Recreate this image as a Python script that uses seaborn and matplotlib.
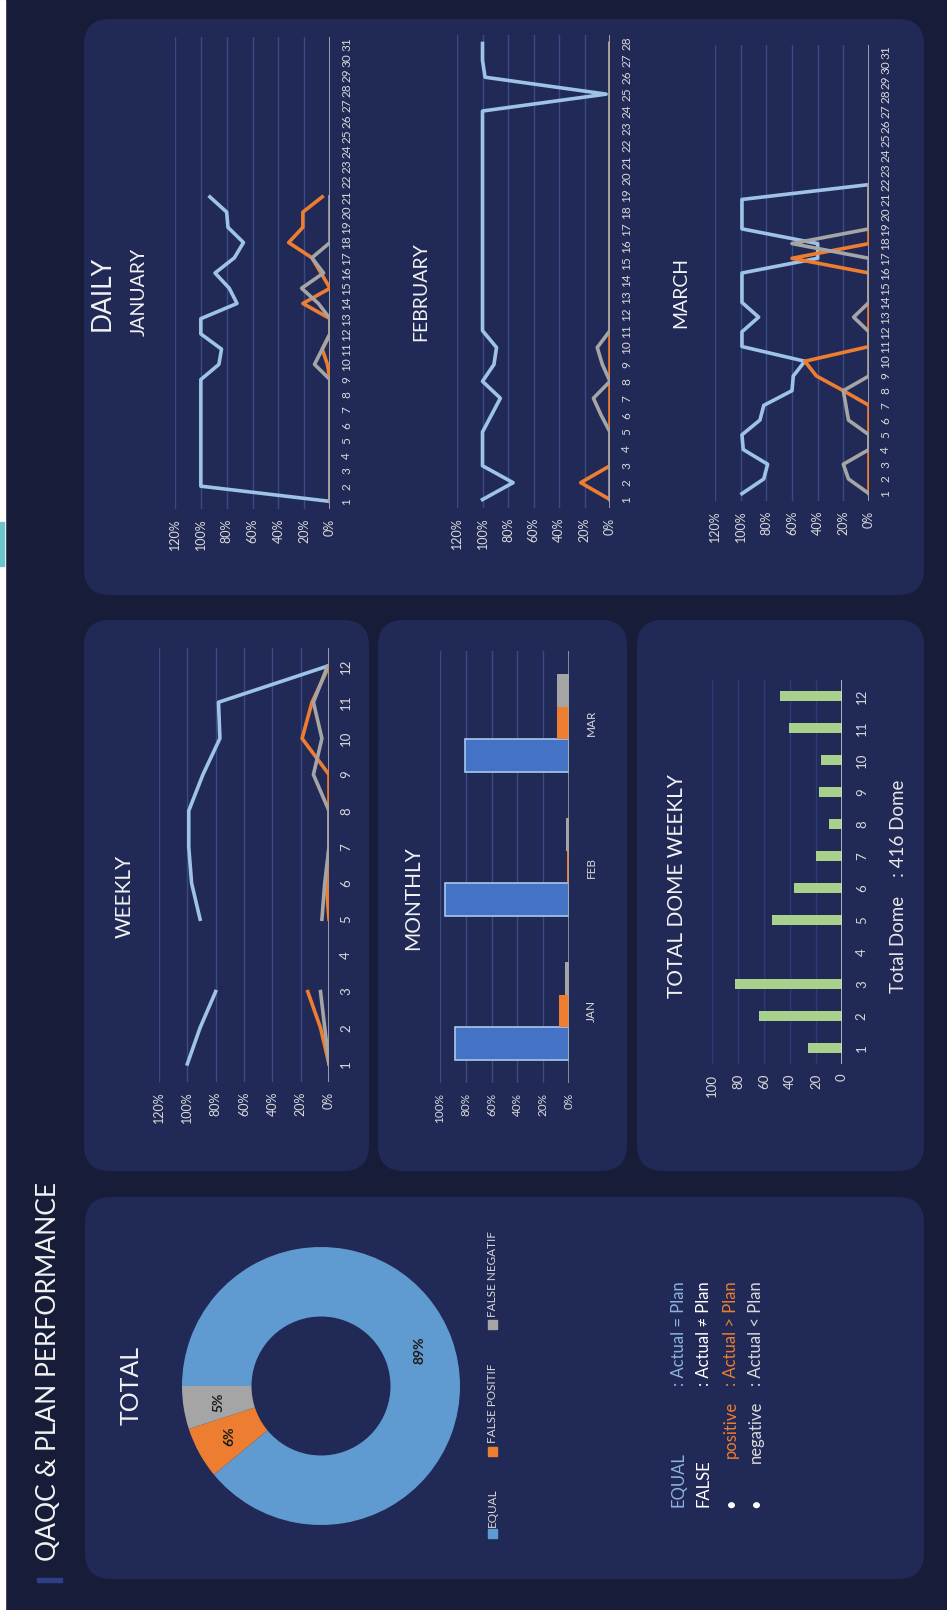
import numpy as np
import pandas as pd
import matplotlib
matplotlib.use('Agg')
import matplotlib.pyplot as plt
import seaborn as sns
from matplotlib.patches import FancyBboxPatch, Rectangle

NA = np.nan

# ---------------------------------------------------------------- data
series_names = ['EQUAL', 'FALSE POSITIF', 'FALSE NEGATIF']
total_share = [89, 6, 5]

weeks = list(range(1, 13))
wk_equal = [100, 91, 80, NA, 91, 97, 99, 99, 89, 77, 78, 1]
wk_fpos = [0, 6, 15, NA, 0, 2, 0, 0, 0, 19, 12, 0]
wk_fneg = [0, 3, 6, NA, 5, 3, 0, 0, 11, 5, 11, 1]

months = ['JAN', 'FEB', 'MAR']
m_equal = [88, 96, 81]
m_fpos = [7.7, 1.3, 9]
m_fneg = [3.4, 2, 9]

dome_weekly = [26, 64, 82, 0, 54, 37, 20, 10, 18, 16, 41, 48]

jan_days = list(range(1, 32))
jan_equal = [0, 100, 100, 100, 100, 100, 100, 100, 100, 86, 84, 100, 100, 72, 78, 89,
             74, 67, 79, 80, 93, NA, NA, NA, NA, NA, NA, NA, NA, NA, NA]
jan_fpos = [0, 0, 0, 0, 0, 0, 0, 0, 0, 2, 6, 0, 0, 21, 0, 7,
            14, 32, 21, 21, 6, NA, NA, NA, NA, NA, NA, NA, NA, NA, NA]
jan_fneg = [0, 0, 0, 0, 0, 0, 0, 0, 0, 12, 6, 0, 0, 9, 22, 5,
            14, 0, 0, 0, 0, NA, NA, NA, NA, NA, NA, NA, NA, NA, NA]

feb_days = list(range(1, 29))
feb_equal = [100, 76, 100, 100, 100, 93, 86, 100, 91, 89, 100, 100, 100, 100,
             100, 100, 100, 100, 100, 100, 100, 100, 100, 100, 3, 98, 100, 100]
feb_fpos = [0, 23, 0, 0, 0, 0, 0, 0, 0, 0, 0, 0, 0, 0,
            0, 0, 0, 0, 0, 0, 0, 0, 0, 0, 0, 0, 0, 0]
feb_fneg = [0, 0, 0, 0, 0, 7, 13, 0, 6, 10, 0, 0, 0, 0,
            0, 0, 0, 0, 0, 0, 0, 0, 0, 0, 0, 0, 0, 0]

mar_days = list(range(1, 32))
mar_equal = [99, 82, 79, 98, 99, 85, 82, 60, 59, 50, 99, 99, 86, 99, 99, 99,
             40, 40, 99, 99, 99, 1, NA, NA, NA, NA, NA, NA, NA, NA, NA]
mar_fpos = [0, 0, 0, 0, 0, 0, 0, 20, 41, 50, 0, 0, 0, 0, 0, 0,
            60, 0, 0, 0, 0, 0, NA, NA, NA, NA, NA, NA, NA, NA, NA]
mar_fneg = [0, 16, 20, 0, 0, 16, 18, 20, 0, 0, 0, 0, 12, 0, 0, 0,
            0, 60, 0, 0, 0, 0, NA, NA, NA, NA, NA, NA, NA, NA, NA]

# ---------------------------------------------------------------- style
BG = '#171d39'
PANEL = '#212a57'
TXT = '#f2f2f2'
TICK = '#d9d9d9'
GRID = '#3b4985'
LINE_COLORS = ['#9dc3e6', '#ed7d31', '#a5a5a5']
BAR_COLORS = ['#4472c4', '#ed7d31', '#a5a5a5']
PIE_COLORS = ['#5f9bd1', '#ed7d31', '#a5a5a5']

plt.rcParams['font.family'] = ['Lato', 'DejaVu Sans']

W, H = 947, 1610
fig = plt.figure(figsize=(W / 100, H / 100), dpi=100)
fig.patch.set_facecolor(BG)

# background layer in pixel coordinates (y downwards)
bg = fig.add_axes([0, 0, 1, 1])
bg.set_xlim(0, W)
bg.set_ylim(H, 0)
bg.axis('off')

bg.add_patch(Rectangle((0, 0), 5, H, color='white', zorder=0))
bg.add_patch(Rectangle((0, 522), 4, 44, color='#6cc6c9', zorder=0.5))

panels = [(84, 19, 924, 595), (84, 620, 369, 1171), (378, 620, 627, 1171),
          (637, 620, 924, 1171), (85, 1197, 924, 1579)]
for x0, y0, x1, y1 in panels:
    bg.add_patch(FancyBboxPatch((x0, y0), x1 - x0, y1 - y0,
                                boxstyle='round,pad=0,rounding_size=26',
                                fc=PANEL, ec='none', zorder=1))

bg.add_patch(Rectangle((37, 1578), 25, 4, color='#2e3f86', zorder=1))


def add_ax(x0, y0, x1, y1):
    return fig.add_axes([x0 / W, 1 - y1 / H, (x1 - x0) / W, (y1 - y0) / H])


def style_axis(ax, vmax, step, fmt, zero_color, grid_color=GRID, xsize=9, ysize=8.5,
               xpad=7, ypad=8):
    ax.set_facecolor('none')
    for s in ax.spines.values():
        s.set_visible(False)
    ticks = list(range(0, vmax + 1, step))
    ax.set_xlim(vmax, 0)
    ax.set_xticks(ticks)
    ax.set_xticklabels([fmt.format(t) for t in ticks], rotation=90)
    ax.grid(axis='x', color=grid_color, lw=1)
    ax.grid(axis='y', visible=False)
    ax.axvline(0, color=zero_color, lw=1.8, zorder=1.5)
    ax.set_axisbelow(True)
    ax.yaxis.tick_right()
    ax.tick_params(length=0, labelcolor=TICK)
    ax.tick_params(axis='x', labelsize=xsize, pad=xpad)
    ax.tick_params(axis='y', labelsize=ysize, pad=ypad)
    ax.set_xlabel('')
    ax.set_ylabel('')


def draw_lines(ax, days, series):
    for vals, color in zip(series, LINE_COLORS):
        df = pd.DataFrame({'day': days, 'val': vals}, dtype=float)
        run = df['val'].isna().cumsum()
        ok = df['val'].notna()
        for _, seg in df[ok].groupby(run[ok]):
            sns.lineplot(data=seg, x='val', y='day', orient='y', sort=False,
                         color=color, lw=2.6, ax=ax, legend=False)


def line_panel(box, days, series, ysize):
    ax = add_ax(*box)
    draw_lines(ax, days, series)
    style_axis(ax, 120, 20, '{}%', '#bfbfbf', ysize=ysize)
    ax.set_yticks(days)
    ax.set_yticklabels([str(d) for d in days], rotation=90, va='center')
    ax.set_ylim(days[0] - 0.5, days[-1] + 0.5)
    return ax


# ---------------------------------------------------------------- daily
line_panel((175, 37, 330, 509), jan_days, [jan_equal, jan_fpos, jan_fneg], 8.5)
line_panel((457, 35, 610, 508), feb_days, [feb_equal, feb_fpos, feb_fneg], 8.5)
line_panel((715, 45, 869, 501), mar_days, [mar_equal, mar_fpos, mar_fneg], 8.5)

# ---------------------------------------------------------------- weekly
line_panel((159, 648, 329, 1082), weeks, [wk_equal, wk_fpos, wk_fneg], 9.5)

# ---------------------------------------------------------------- monthly
ax_m = add_ax(440, 651, 569, 1083)
mdf = pd.DataFrame({
    'month': months * 3,
    'kind': [series_names[0]] * 3 + [series_names[1]] * 3 + [series_names[2]] * 3,
    'value': m_equal + m_fpos + m_fneg,
})
sns.barplot(data=mdf, x='value', y='month', hue='kind', order=months,
            hue_order=series_names, palette=BAR_COLORS, orient='h', width=0.68,
            saturation=1, ax=ax_m, legend=False)
for bar in ax_m.patches:
    bar.set_edgecolor('none')
for bar in ax_m.containers[0]:
    bar.set_edgecolor('#a9c8ec')
    bar.set_linewidth(1.2)
style_axis(ax_m, 100, 20, '{}%', '#a6a6a6', xsize=8.5, ysize=8.5, ypad=12)
ax_m.set_ylim(-0.5, 2.5)
ax_m.set_yticks(range(3))
ax_m.set_yticklabels(months, rotation=90, va='center')

# ---------------------------------------------------------------- dome weekly
ax_d = add_ax(712, 680, 842, 1064)
ddf = pd.DataFrame({'week': [str(w) for w in weeks], 'dome': dome_weekly})
sns.barplot(data=ddf, x='dome', y='week', order=[str(w) for w in weeks],
            color='#a9d18e', saturation=1, orient='h', width=0.31, ax=ax_d)
style_axis(ax_d, 100, 20, '{}', '#d9d9d9', grid_color='#2d3b7a', xsize=9.5, ysize=9.5,
           ypad=10)
ax_d.set_ylim(-0.5, 11.5)
ax_d.set_yticks(range(12))
ax_d.set_yticklabels([str(w) for w in weeks], rotation=90, va='center')

# ---------------------------------------------------------------- total donut
ax_p = add_ax(181, 1247, 461, 1525)
ax_p.pie(total_share, colors=PIE_COLORS, startangle=180, counterclock=False,
         radius=1, autopct=lambda p: f'{p:.0f}%', pctdistance=0.75,
         wedgeprops={'width': 0.5, 'edgecolor': 'none'},
         textprops={'rotation': 90, 'fontsize': 10, 'fontweight': 'bold',
                    'color': '#1a1a1a'})
ax_p.set_xlim(-1, 1)
ax_p.set_ylim(-1, 1)
ax_p.set_facecolor('none')

# legend of the donut
for name, color, ysq, ytxt in zip(series_names, PIE_COLORS,
                                  [1533, 1451, 1324], [1527, 1443, 1317]):
    bg.add_patch(Rectangle((488, ysq - 4.5), 9, 9, color=color, zorder=2))
    bg.text(492, ytxt, name, rotation=90, ha='center', va='bottom',
            color=TICK, fontsize=8.5, zorder=3)

# ---------------------------------------------------------------- texts
def label(x, y, s, size, color=TXT, va='center', **kw):
    bg.text(x, y, s, rotation=90, ha='center', va=va, color=color,
            fontsize=size, zorder=3, **kw)


label(49, 1561, 'QAQC & PLAN PERFORMANCE', 19, va='bottom')
label(131, 1385, 'TOTAL', 18)
label(125, 896, 'WEEKLY', 15)
label(413, 898, 'MONTHLY', 15)
label(677, 886, 'TOTAL DOME WEEKLY', 15)
label(899, 886, 'Total Dome    : 416 Dome', 13.5, color='#e6e6e6')
label(102, 293, 'DAILY', 19)
label(139, 292, 'JANUARY', 14)
label(421, 292, 'FEBRUARY', 14)
label(681, 292, 'MARCH', 14)

# explanation block
LBLUE = '#8db3e2'
label(679, 1507, 'EQUAL', 12, color=LBLUE, va='bottom')
label(679, 1386, ': Actual = Plan', 12, color=LBLUE, va='bottom')
label(704, 1507, 'FALSE', 12, color='white', va='bottom')
label(704, 1386, ': Actual \u2260 Plan', 12, color='white', va='bottom')
label(731, 1503, '\u2022', 12, color='white')
label(731, 1401, 'positive', 12, color='#ed7d31', va='top')
label(731, 1386, ': Actual > Plan', 12, color='#ed7d31', va='bottom')
label(756, 1503, '\u2022', 12, color='white')
label(756, 1401, 'negative', 12, color=TICK, va='top')
label(756, 1386, ': Actual < Plan', 12, color=TICK, va='bottom')

fig.savefig('out.png', dpi=100, facecolor=BG)
